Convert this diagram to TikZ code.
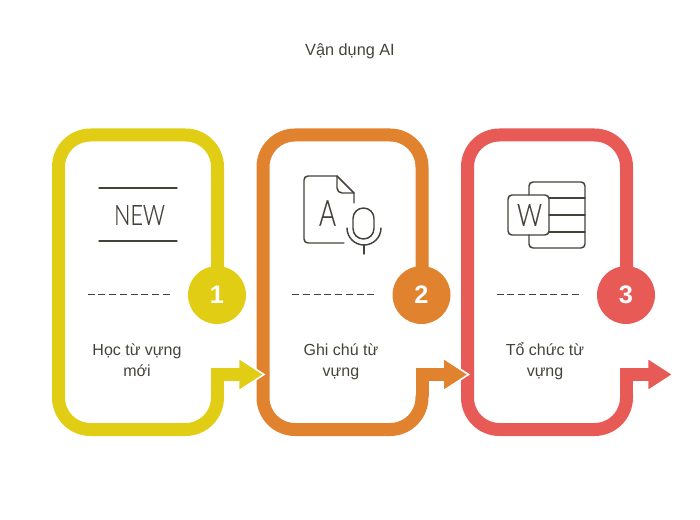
\documentclass[tikz,border=0pt]{standalone}
\usepackage{fontspec}
\setmainfont{Liberation Sans}
\newfontfamily\iconfont[FakeBold=0.4]{Lato Light}
\definecolor{cyellow}{HTML}{E0CD14}
\definecolor{corange}{HTML}{E0822E}
\definecolor{cred}{HTML}{E85A56}
\definecolor{ink}{HTML}{45423B}
\tikzset{
  x=0.75pt,y=-0.75pt,
  band/.style={line width=9.75pt,line join=miter,line cap=butt},
  head/.style={draw=white,line width=1.2pt,line join=miter},
  badge/.style={circle,inner sep=0pt,minimum size=43.5pt,text=white,font=\fontsize{19}{19}\selectfont\bfseries},
  label/.style={align=center,text=ink,font=\fontsize{12}{15.6}\selectfont},
  icon/.style={draw=ink,line width=1.1pt,line cap=round,line join=round},
  rule/.style={draw=ink,line width=1.1pt,dash pattern=on 5.25pt off 2.8pt},
  glyph/.style={text=ink,inner sep=0pt},
  pics/card/.style n args={2}{code={
    \fill[#1,head] (238.5,358) -- (264,374.5) -- (238.5,391) -- cycle;
    \draw[#1,band,rounded corners=24pt] (217.5,295) -- (217.5,135) -- (58.5,135) -- (58.5,429.5) -- (217.5,429.5) -- (217.5,395);
    \draw[#1,band] (217.5,396) -- (217.5,374.5) -- (240,374.5);
    \draw[rule] (87.7,294.5) -- (170,294.5);
    \node[badge,fill=#1] at (217,295) {#2};
  }}
}
\begin{document}
\begin{tikzpicture}
\useasboundingbox (0,0) rectangle (700,520);
\node[text=ink,font=\fontsize{12.2}{14}\selectfont] (title) at (350,51.5) {Vận dụng AI};

\pic at (409,0) {card={cred}{3}};
\pic at (204.5,0) {card={corange}{2}};
\pic at (0,0) {card={cyellow}{1}};

\node[label] (t1) at (137,362) {\strut Học từ vựng\\\strut mới};
\node[label] (t2) at (341,362) {\strut Ghi chú từ\\\strut vựng};
\node[label] (t3) at (545,362) {\strut Tổ chức từ\\\strut vựng};

% NEW icon
\draw[icon] (99,188) -- (177,188);
\draw[icon] (99,241) -- (177,241);
\node[glyph,xscale=0.77,font=\iconfont\fontsize{21}{21}\selectfont] (new) at (139.5,215) {NEW};

% document and microphone icon
\draw[icon] (344,243) -- (308,243) arc[start angle=90,end angle=180,radius=4] -- (304,180) arc[start angle=180,end angle=270,radius=4] -- (337,176) -- (354,193) -- (354,203);
\draw[icon] (337,176) -- (337,188) arc[start angle=180,end angle=90,radius=5] -- (354,193);
\node[glyph,xscale=0.72,font=\iconfont\fontsize{27}{27}\selectfont] (a) at (327.5,213) {A};
\draw[icon] (353,218.5) arc[start angle=180,end angle=360,radius=10.5] -- (374,228.5) arc[start angle=0,end angle=180,radius=10.5] -- cycle;
\draw[icon] (347,228) arc[start angle=180,end angle=0,radius=17];
\draw[icon] (364,245) -- (364,254);

% word icon
\draw[icon,rounded corners=3pt] (529,195) -- (529,182) -- (585,182) -- (585,248) -- (529,248) -- (529,235);
\draw[icon] (549,198) -- (585,198);
\draw[icon] (549,215) -- (585,215);
\draw[icon] (549,232) -- (585,232);
\draw[icon,rounded corners=3pt] (508,195) rectangle (549,235);
\node[glyph,xscale=0.8,font=\iconfont\fontsize{23}{23}\selectfont] (w) at (529.5,215) {W};
\end{tikzpicture}
\end{document}
